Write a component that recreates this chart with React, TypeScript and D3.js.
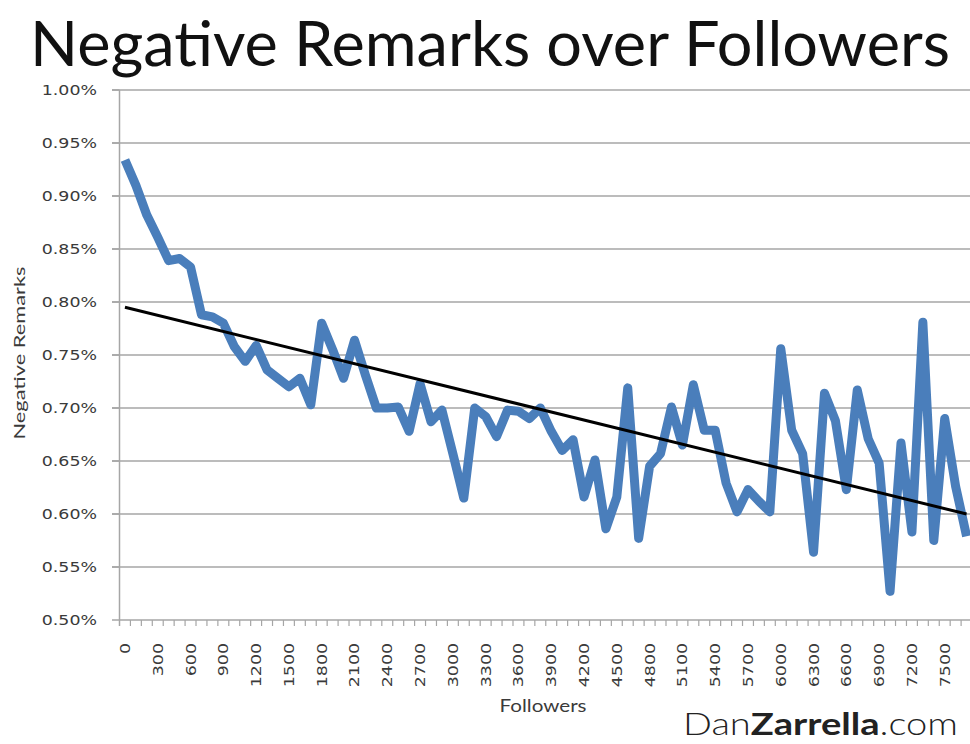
import React from 'react';
import * as d3 from 'd3';

// Categories: followers (step 100)
const categories: number[] = d3.range(0, 7800, 100);

// Negative remarks (%) per follower bucket
const negativeRemarks: number[] = [
  0.934, 0.910, 0.882, 0.861, 0.839, 0.841, 0.833, 0.788, 0.786, 0.780,
  0.758, 0.744, 0.759, 0.736, 0.728, 0.720, 0.728, 0.703, 0.780, 0.755,
  0.728, 0.764, 0.731, 0.700, 0.700, 0.701, 0.678, 0.723, 0.687, 0.698,
  0.657, 0.615, 0.700, 0.692, 0.673, 0.698, 0.697, 0.690, 0.700, 0.678,
  0.660, 0.670, 0.616, 0.651, 0.586, 0.616, 0.719, 0.577, 0.645, 0.657,
  0.701, 0.665, 0.722, 0.679, 0.679, 0.629, 0.602, 0.623, 0.612, 0.602,
  0.756, 0.679, 0.657, 0.564, 0.714, 0.688, 0.623, 0.717, 0.671, 0.648,
  0.527, 0.667, 0.583, 0.781, 0.575, 0.690, 0.626, 0.579,
];

// Linear trendline values at the first and last category
const trendCategories: number[] = [0, 7700];
const trendValues: number[] = [0.795, 0.600];

const yTicks: number[] = [0.5, 0.55, 0.6, 0.65, 0.7, 0.75, 0.8, 0.85, 0.9, 0.95, 1.0];
const xLabelEvery = 300;

const TITLE = 'Negative Remarks over Followers';
const Y_TITLE = 'Negative Remarks';
const X_TITLE = 'Followers';

export default function App() {
  const W = 970;
  const H = 744;
  const left = 119.5;
  const step = 10.93;
  const top = 90;
  const bottom = 620;

  const x = d3
    .scaleBand<number>()
    .domain(categories)
    .range([left, left + step * categories.length])
    .paddingInner(0)
    .paddingOuter(0);
  const bw = x.bandwidth();
  const cx = (c: number) => (x(c) as number) + bw / 2;
  const y = d3.scaleLinear().domain([0.5, 1.0]).range([bottom, top]);

  const line = d3
    .line<number>()
    .x((_, i) => cx(categories[i]))
    .y((d) => y(d));

  const trend = d3
    .line<number>()
    .x((_, i) => cx(trendCategories[i]))
    .y((d) => y(d));

  const gridColor = '#a6a6a6';
  const labelColor = '#3a3a3a';
  const tickFont = '"DejaVu Sans", Verdana, sans-serif';
  const textFont = 'Lato, "Open Sans", sans-serif';
  const tickSize = 14.5;
  const stretch = 1.2;

  return (
    <svg
      width={W}
      height={H}
      style={{ position: 'absolute', left: 0, top: 0, background: '#fff' }}
    >
      <rect x={0} y={0} width={W} height={H} fill="#fff" />
      <text
        x={490}
        y={66}
        textAnchor="middle"
        fontFamily={textFont}
        fontSize={61}
        fill="#111"
        textLength={920}
        lengthAdjust="spacingAndGlyphs"
      >
        {TITLE}
      </text>

      {/* gridlines + y ticks */}
      {yTicks.map((t) => (
        <g key={t}>
          <line
            x1={t === 0.5 ? left : 112}
            x2={W}
            y1={y(t)}
            y2={y(t)}
            stroke={gridColor}
            strokeWidth={1.5}
          />
          <line x1={112} x2={left} y1={y(t)} y2={y(t)} stroke={gridColor} strokeWidth={1.5} />
          <text
            transform={`translate(97,${y(t) + 5}) scale(${stretch},1)`}
            textAnchor="end"
            fontFamily={tickFont}
            fontSize={tickSize}
            fill={labelColor}
          >
            {t.toFixed(2) + '%'}
          </text>
        </g>
      ))}

      {/* y axis */}
      <line x1={left} x2={left} y1={top} y2={bottom + 6} stroke={gridColor} strokeWidth={1.5} />

      {/* x ticks */}
      {categories.map((c) => (
        <line
          key={'t' + c}
          x1={(x(c) as number) + bw}
          x2={(x(c) as number) + bw}
          y1={bottom}
          y2={bottom + 6}
          stroke={gridColor}
          strokeWidth={1.2}
        />
      ))}

      {/* x labels */}
      {categories
        .filter((c) => c % xLabelEvery === 0)
        .map((c) => (
          <text
            key={'l' + c}
            transform={`translate(${cx(c) + 5},${bottom + 23}) rotate(-90) scale(${stretch},1)`}
            textAnchor="end"
            fontFamily={tickFont}
            fontSize={tickSize}
            fill={labelColor}
          >
            {String(c)}
          </text>
        ))}

      {/* data line */}
      <path
        d={line(negativeRemarks) || ''}
        fill="none"
        stroke="#4a7ebb"
        strokeWidth={9}
        strokeLinejoin="round"
        strokeLinecap="butt"
      />
      {/* trendline */}
      <path d={trend(trendValues) || ''} fill="none" stroke="#000" strokeWidth={3} />

      {/* axis titles */}
      <text
        transform={`translate(25,${(top + bottom) / 2 - 2}) rotate(-90)`}
        textAnchor="middle"
        fontFamily={textFont}
        fontSize={16}
        fill={labelColor}
        textLength={173}
        lengthAdjust="spacingAndGlyphs"
      >
        {Y_TITLE}
      </text>
      <text
        x={543}
        y={712}
        textAnchor="middle"
        fontFamily={textFont}
        fontSize={17}
        fill={labelColor}
        textLength={87}
        lengthAdjust="spacingAndGlyphs"
      >
        {X_TITLE}
      </text>

      {/* brand */}
      <text
        x={683}
        y={735}
        fontFamily={textFont}
        fontSize={31}
        fill="#222"
        textLength={275}
        lengthAdjust="spacingAndGlyphs"
      >
        <tspan fontWeight={300}>Dan</tspan>
        <tspan fontWeight="bold">Zarrella</tspan>
        <tspan fontWeight={300}>.com</tspan>
      </text>
    </svg>
  );
}
